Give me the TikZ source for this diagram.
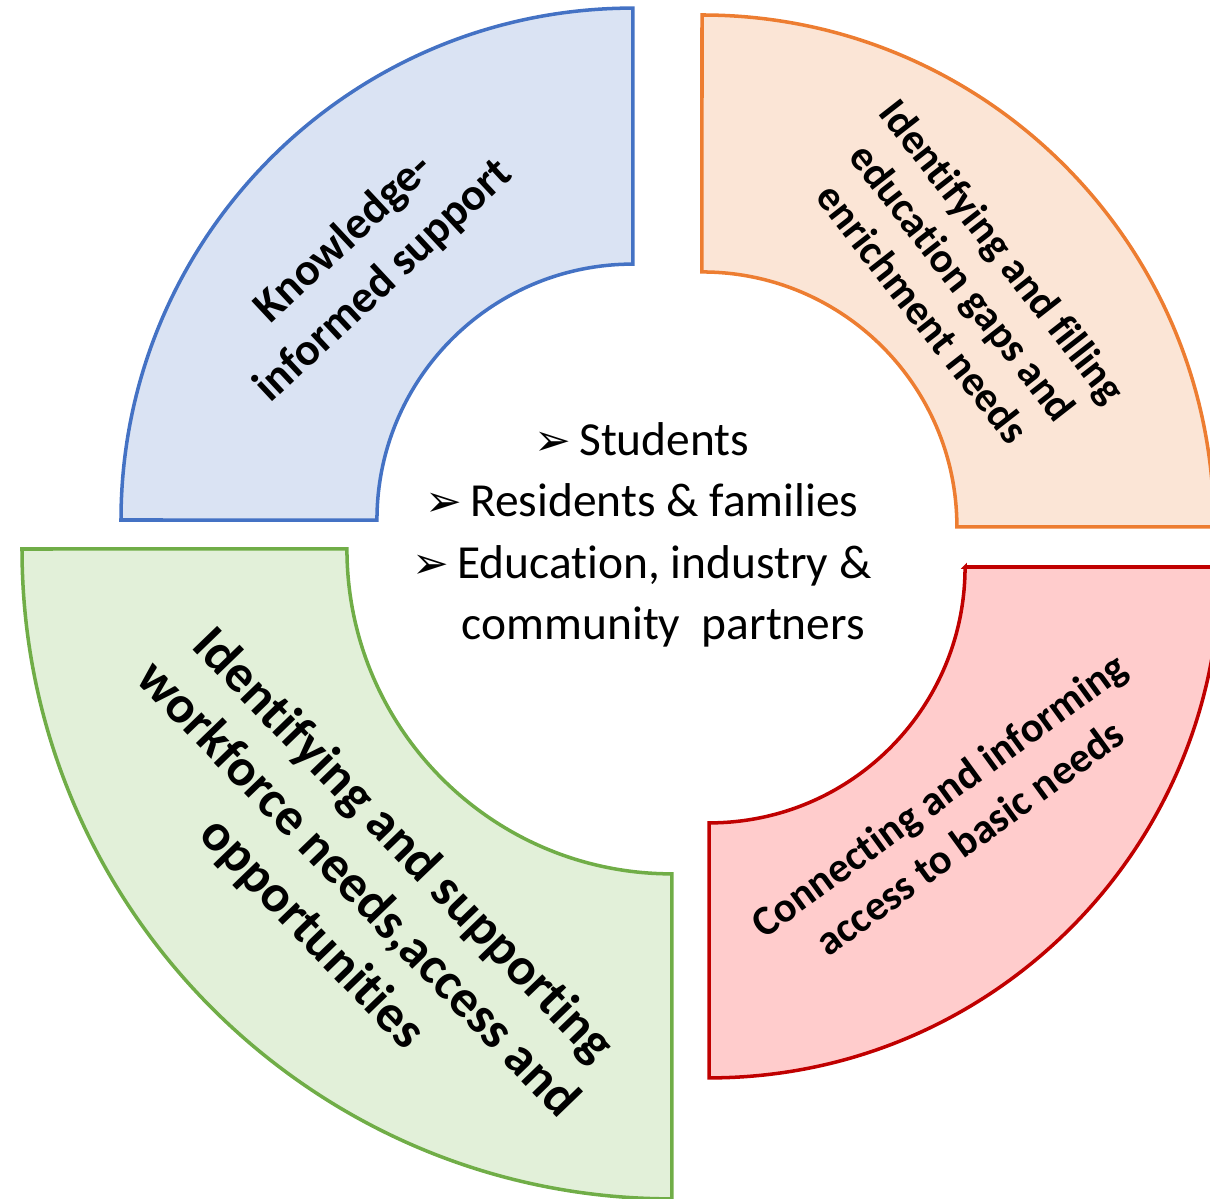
\documentclass[tikz,border=0pt]{standalone}
\usepackage{fontspec}
\setmainfont{Carlito}[Ligatures=NoCommon]
\newfontfamily\symfont{DejaVu Sans}

\definecolor{blueline}{HTML}{4472C4}
\definecolor{bluefill}{HTML}{DAE3F3}
\definecolor{orangeline}{HTML}{ED7D31}
\definecolor{orangefill}{HTML}{FBE5D6}
\definecolor{greenline}{HTML}{70AD47}
\definecolor{greenfill}{HTML}{E2F0D9}
\definecolor{redline}{HTML}{C00000}
\definecolor{redfill}{HTML}{FFCCCC}

\newcommand{\arrowbul}{{\symfont\fontsize{25}{25}\selectfont ➢}\,}

\begin{document}
\begin{tikzpicture}[x=0.02cm,y=0.02cm]
  \useasboundingbox (0,0) rectangle (1210,1198);
  \clip (0,0) rectangle (1210,1198);
  \tikzstyle{part}=[line width=2pt,line join=miter]
  \tikzstyle{parttext}=[align=center,inner sep=0pt]

%% four quarter rings
  \draw[part,draw=blueline,fill=bluefill] (633,678) ++(180:512)
    arc[start angle=180,end angle=90,radius=10.24cm] -- ++(0,-256)
    arc[start angle=90,end angle=180,radius=5.12cm] -- cycle;
  \draw[part,draw=orangeline,fill=orangefill] (702,671) ++(90:512)
    arc[start angle=90,end angle=0,radius=10.24cm] -- ++(-257,0)
    arc[start angle=0,end angle=90,radius=5.1cm] -- cycle;
  \draw[part,draw=greenline,fill=greenfill] (672,649) ++(180:650)
    arc[start angle=180,end angle=270,radius=13cm] -- ++(0,325)
    arc[start angle=270,end angle=180,radius=6.5cm] -- cycle;
  \draw[part,draw=redline,fill=redfill] (709,631) ++(0:256) -- ++(255,0)
    arc[start angle=0,end angle=-90,radius=10.22cm] -- ++(0,255)
    arc[start angle=-90,end angle=0,radius=5.12cm] -- cycle;

%% ring texts
  \node[parttext,rotate=43,font=\bfseries\fontsize{26}{33}\selectfont] (knowledge) at (364,938)
    {Knowledge-\\informed support};
  \node[parttext,rotate=-52,font=\bfseries\fontsize{24}{29}\selectfont] (education) at (963,916)
    {Identifying and filling\\education gaps and\\enrichment needs};
  \node[parttext,rotate=-46,font=\bfseries\fontsize{30}{36}\selectfont] (workforce) at (357,308)
    {Identifying and supporting\\workforce needs,access and\\opportunities};
  \node[parttext,rotate=36,font=\bfseries\fontsize{24}{30}\selectfont] (basicneeds) at (954,382)
    {Connecting and informing\\access to basic needs};

%% who is served
  \node[parttext,font=\fontsize{27}{35}\selectfont] (groups) at (642,663)
    {\arrowbul Students\\
     \arrowbul Residents \& families\\
     \arrowbul Education, industry \&\\
     \hspace*{0.9em}community\ \ partners};
\end{tikzpicture}
\end{document}
